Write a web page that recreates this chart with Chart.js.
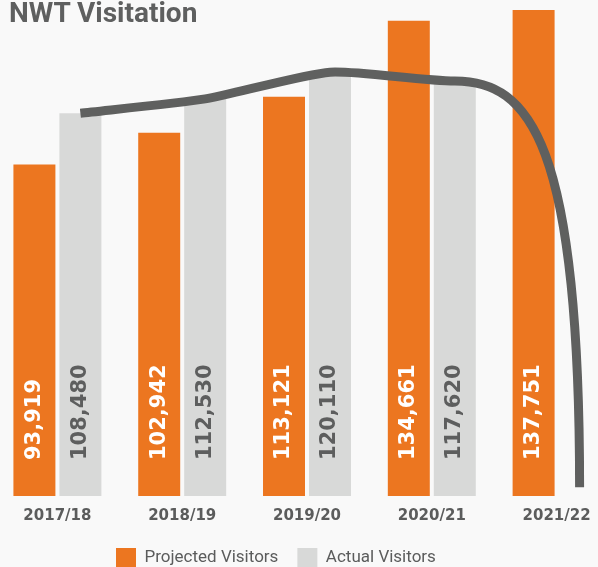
<!DOCTYPE html>
<html>
<head>
<meta charset="utf-8">
<script src="https://cdn.jsdelivr.net/npm/chart.js@4.4.1/dist/chart.umd.min.js"></script>
<style>
  html, body { margin: 0; padding: 0; background: #f9f9f9; overflow: hidden; width: 598px; height: 567px; }
  /* chart is a bit wider than the window: the outer categories run off the edges */
  #wrap { position: absolute; left: -5px; top: 0; width: 624px; height: 567px; }
  #title { position: absolute; left: 9px; top: -1px; font: bold 28px Roboto; line-height: 28px; color: #5e5f5f; z-index: 2; }
</style>
</head>
<body>
<div id="wrap"><canvas id="chart"></canvas></div>
<div id="title">NWT Visitation</div>
<script>
// data
const years = ['2017/18', '2018/19', '2019/20', '2020/21', '2021/22'];
const projected = [93919, 102942, 113121, 134661, 137751];
const actual = [108480, 112530, 120110, 117620, null];
const trend = [108480, 112530, 120110, 117620, 2500];

const ORANGE = '#ec7620';
const GREY = '#d8d9d8';
const LINE = '#5f605f';
const TEXT = '#5b5c5c';

const catPct = 0.737;
const barPct = 0.913;
const lineShift = catPct / 4;   // trend line sits over the "actual" bars
const legendShift = 102;

// rotated values inside the bars
const barLabels = {
    id: 'barLabels',
    afterDatasetDraw(chart, args) {
        const ds = chart.data.datasets[args.index];
        if (ds.type !== 'bar') return;
        const ctx = chart.ctx;
        args.meta.data.forEach((bar, i) => {
            const v = ds.data[i];
            if (v == null) return;
            ctx.save();
            ctx.translate(bar.x, bar.base - 36);
            ctx.rotate(-Math.PI / 2);
            ctx.font = 'bold 21px "DejaVu Sans"';
            ctx.fillStyle = ds.labelColor;
            ctx.textAlign = 'left';
            ctx.textBaseline = 'middle';
            ctx.fillText(v.toLocaleString('en-US'), 0, 0);
            ctx.restore();
        });
    }
};

// trend line: moved over the grey bars, last segment flat then dropping almost vertically
const trendLine = {
    id: 'trendLine',
    beforeDatasetDraw(chart, args) {
        if (args.meta.type !== 'line') return;
        const x = chart.scales.x;
        const dx = (x.getPixelForValue(1) - x.getPixelForValue(0)) * lineShift;
        const line = args.meta.dataset;
        const pts = args.meta.data;
        line.updateControlPoints(chart.chartArea, 'x');
        const p = pts[pts.length - 3], a = pts[pts.length - 2], b = pts[pts.length - 1];
        a.cp1x = a.x - (a.x - p.x) * 0.25; a.cp1y = a.y;
        a.cp2x = a.x + (b.x - a.x) * 0.6; a.cp2y = a.y;
        b.cp1x = b.x; b.cp1y = b.y - (b.y - a.y) * 0.85;
        line._path = undefined;
        chart.ctx.save();
        chart.ctx.translate(dx, 0);
    },
    afterDatasetDraw(chart, args) {
        if (args.meta.type !== 'line') return;
        chart.ctx.restore();
    }
};

const shiftLegend = {
    id: 'shiftLegend',
    afterLayout(chart) {
        chart.legend.left += legendShift;
        chart.legend.right += legendShift;
    }
};

new Chart(document.getElementById('chart'), {
    type: 'bar',
    data: {
        labels: years,
        datasets: [
            { type: 'bar', label: 'Projected Visitors', data: projected, backgroundColor: ORANGE, labelColor: '#ffffff' },
            { type: 'bar', label: 'Actual Visitors', data: actual, backgroundColor: GREY, labelColor: '#5d5e5e' },
            {
                type: 'line',
                label: 'Trend',
                data: trend,
                borderColor: LINE,
                borderWidth: 9,
                pointRadius: 0,
                tension: 0.2,
                fill: false,
                order: -1
            }
        ]
    },
    options: {
        responsive: true,
        maintainAspectRatio: false,
        animation: false,
        layout: { padding: { left: 0, right: 0, top: 2, bottom: -11 } },
        datasets: { bar: { categoryPercentage: catPct, barPercentage: barPct } },
        scales: {
            x: {
                grid: { display: false },
                border: { display: false },
                ticks: { color: TEXT, padding: 3, font: { family: 'DejaVu Sans', weight: 'bold', size: 15 } },
                afterFit: s => { s.height += 1; }
            },
            y: { display: false, min: 0, max: 140000 }
        },
        plugins: {
            legend: {
                position: 'bottom',
                align: 'start',
                labels: {
                    boxWidth: 20,
                    boxHeight: 20,
                    padding: 19,
                    color: TEXT,
                    font: { family: 'Roboto', size: 17 },
                    filter: item => item.datasetIndex !== 2
                }
            },
            tooltip: { enabled: false }
        }
    },
    plugins: [barLabels, trendLine, shiftLegend]
});
</script>
</body>
</html>
